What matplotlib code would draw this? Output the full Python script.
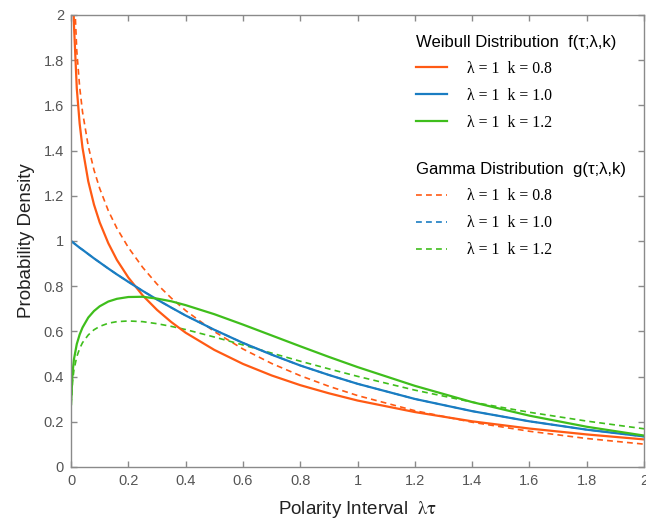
import numpy as np
import matplotlib.pyplot as plt
from matplotlib.lines import Line2D
from matplotlib.ticker import FuncFormatter

# sample points along the polarity interval axis
tau = [0.005, 0.01, 0.02, 0.03, 0.04, 0.06, 0.08, 0.1, 0.13, 0.16, 0.2, 0.25,
       0.3, 0.35, 0.4, 0.5, 0.6, 0.7, 0.8, 0.9, 1.0, 1.2, 1.4, 1.6, 1.8, 2.0]

# Weibull densities, lambda = 1
weib_08 = [2.275, 1.960, 1.675, 1.519, 1.412, 1.264, 1.161, 1.082, 0.990, 0.916,
           0.838, 0.759, 0.695, 0.641, 0.594, 0.518, 0.456, 0.405, 0.362, 0.326,
           0.294, 0.243, 0.202, 0.170, 0.144, 0.122]
tau_exp = [0.0] + tau
weib_10 = [1.000, 0.995, 0.990, 0.980, 0.970, 0.961, 0.942, 0.923, 0.905, 0.878,
           0.852, 0.819, 0.779, 0.741, 0.705, 0.670, 0.607, 0.549, 0.497, 0.449,
           0.407, 0.368, 0.301, 0.247, 0.202, 0.165, 0.135]
tau_12 = [0.001] + tau
weib_12 = [0.301, 0.415, 0.476, 0.544, 0.586, 0.617, 0.661, 0.690, 0.711, 0.732,
           0.744, 0.752, 0.753, 0.745, 0.733, 0.716, 0.676, 0.630, 0.582, 0.534,
           0.487, 0.442, 0.359, 0.287, 0.227, 0.178, 0.139]

# Gamma densities, lambda = 1
gam_08 = [2.470, 2.136, 1.841, 1.681, 1.571, 1.420, 1.314, 1.232, 1.134, 1.056,
          0.971, 0.883, 0.809, 0.747, 0.692, 0.599, 0.522, 0.458, 0.404, 0.357,
          0.316, 0.249, 0.198, 0.158, 0.126, 0.101]
gam_10 = weib_10
gam_12 = [0.273, 0.376, 0.429, 0.488, 0.524, 0.550, 0.584, 0.607, 0.622, 0.636,
          0.643, 0.646, 0.643, 0.634, 0.622, 0.608, 0.575, 0.540, 0.504, 0.468,
          0.434, 0.401, 0.340, 0.287, 0.242, 0.203, 0.169]

shape_labels = ['λ = 1  k = 0.8', 'λ = 1  k = 1.0', 'λ = 1  k = 1.2']
colors = ['#FF5A14', '#1A7DC2', '#3FBE1C']

plt.rcParams['font.family'] = ['Liberation Sans', 'DejaVu Sans']
plt.rcParams['mathtext.fontset'] = 'stix'

fig = plt.figure(figsize=(6.46, 5.22), dpi=100)
ax = fig.add_axes([0.110, 0.1054, 0.887, 0.866])

lw = 1.6
dash = (0, (3.5, 2.5))
ax.plot(tau, gam_08, color=colors[0], lw=1.2, ls=dash)
ax.plot(tau_exp, gam_10, color=colors[1], lw=1.2, ls=dash)
ax.plot(tau_12, gam_12, color=colors[2], lw=1.2, ls=dash)
ax.plot(tau, weib_08, color=colors[0], lw=lw)
ax.plot(tau_exp, weib_10, color=colors[1], lw=lw)
ax.plot(tau_12, weib_12, color=colors[2], lw=lw)

ax.set_xlim(0, 2)
ax.set_ylim(0, 2)
ax.set_xticks(np.arange(0, 2.01, 0.2))
ax.set_yticks(np.arange(0, 2.01, 0.2))
fmt = FuncFormatter(lambda v, p: f'{v:g}')
ax.xaxis.set_major_formatter(fmt)
ax.yaxis.set_major_formatter(fmt)

axis_col = '#8a8a8a'
for s in ax.spines.values():
    s.set_color(axis_col)
    s.set_linewidth(1.0)
ax.tick_params(direction='in', top=True, right=True, length=4.5, width=1.0,
               color=axis_col, labelcolor='#555555', labelsize=10.5, pad=5)

ax.set_xlabel(r'Polarity Interval  $\mathrm{\lambda\tau}$', fontsize=13.5, color='#222222', labelpad=8)
ax.set_ylabel('Probability Density', fontsize=13.5, color='#222222', labelpad=6)

entry_font = {'family': 'Liberation Serif', 'size': 11.3}
title_font = {'family': 'Liberation Sans', 'size': 12}
leg_kw = dict(loc='upper left', frameon=False, prop=entry_font,
              title_fontproperties=title_font, alignment='left',
              borderpad=0, borderaxespad=0, handlelength=2.0,
              handletextpad=1.25, labelspacing=0.7)

weib_handles = [Line2D([], [], color=c, lw=lw) for c in colors]
gam_handles = [Line2D([], [], color=c, lw=1.2, ls=dash) for c in colors]

leg1 = ax.legend(weib_handles, shape_labels, title='Weibull Distribution  f(τ;λ,k)',
                 bbox_to_anchor=(0.602, 0.956), **leg_kw)
ax.add_artist(leg1)
ax.legend(gam_handles, shape_labels, title='Gamma Distribution  g(τ;λ,k)',
          bbox_to_anchor=(0.602, 0.674), **leg_kw)

fig.savefig('out.png', dpi=100)
